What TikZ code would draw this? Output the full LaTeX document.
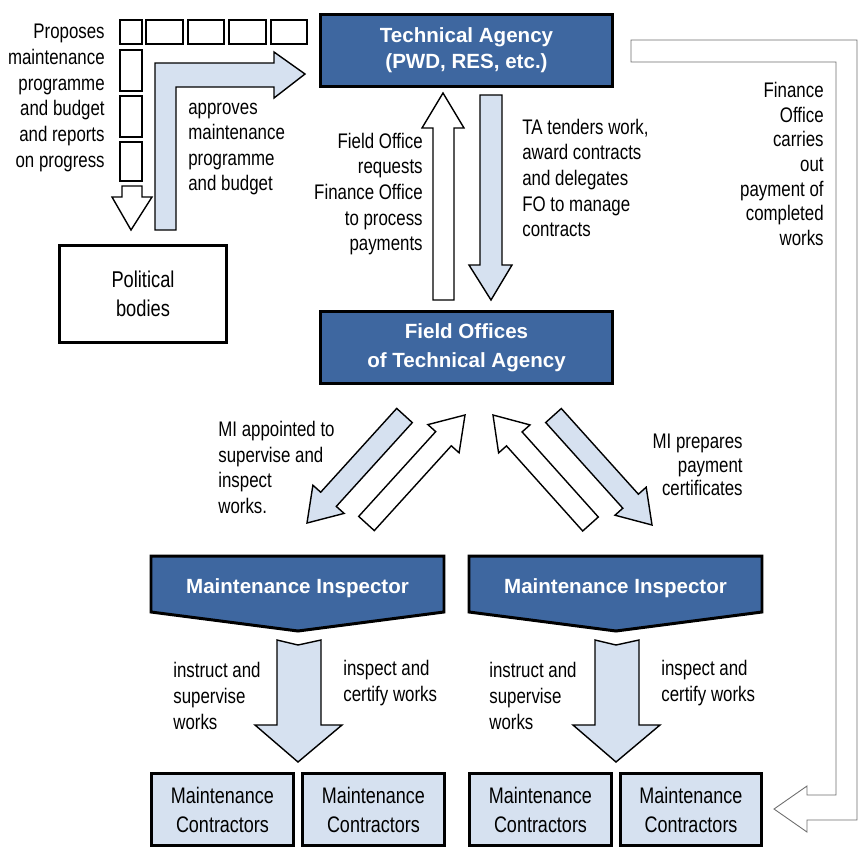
\documentclass[tikz,border=0pt]{standalone}
\usepackage{fontspec}
\setmainfont{Liberation Sans}
\newfontfamily\narrowsans{Liberation Sans}[FakeStretch=0.8]

\definecolor{agencyblue}{RGB}{62,103,160}
\definecolor{paleblue}{RGB}{214,225,240}
\definecolor{edgegray}{RGB}{110,110,110}

\tikzset{
  bluebox/.style={draw=black, line width=1.7pt, fill=agencyblue, text=white,
    font=\fontsize{11.7}{14.8}\selectfont\bfseries, align=center, inner sep=0pt},
  whitebox/.style={draw=black, line width=1.7pt, fill=white,
    font=\narrowsans\fontsize{13}{16.8}\selectfont, align=center, inner sep=0pt},
  contractor/.style={draw=black, line width=1.7pt, fill=paleblue,
    font=\narrowsans\fontsize{12.8}{16.5}\selectfont, align=center,
    minimum width=2.84cm, minimum height=1.44cm, inner sep=0pt},
  remark/.style={font=\narrowsans\fontsize{12}{14.6}\selectfont, inner sep=0pt},
  fatarrow/.style={draw=black, line width=0.8pt},
  tinybox/.style={draw=black, line width=0.9pt},
}

\begin{document}
\begin{tikzpicture}[x=0.02cm, y=-0.02cm]
\useasboundingbox (0,0) rectangle (863,850);

% main boxes
\node[bluebox, minimum width=5.86cm, minimum height=1.44cm] (agency) at (466.5,50.5) {Technical Agency\\(PWD, RES, etc.)};
\node[bluebox, minimum width=5.86cm, minimum height=1.44cm, font=\fontsize{11.7}{16.5}\selectfont\bfseries] (field) at (466.5,347.5) {Field Offices\\of Technical Agency};
\node[whitebox, minimum width=3.34cm, minimum height=1.94cm] (political) at (143,294) {Political\\bodies};

% inspectors
\draw[draw=black, line width=1.7pt, fill=agencyblue] (151,556) -- (444,556) -- (444,612) -- (298,631) -- (151,612) -- cycle;
\draw[draw=black, line width=1.7pt, fill=agencyblue] (469,556) -- (762,556) -- (762,612) -- (616,631) -- (469,612) -- cycle;
\node[text=white, font=\fontsize{11.7}{14}\selectfont\bfseries] (insp1) at (297.5,588) {Maintenance Inspector};
\node[text=white, font=\fontsize{11.7}{14}\selectfont\bfseries] (insp2) at (615.5,588) {Maintenance Inspector};

% contractors
\node[contractor] (mc1) at (222.5,809.5) {Maintenance\\Contractors};
\node[contractor] (mc2) at (373.5,809.5) {Maintenance\\Contractors};
\node[contractor] (mc3) at (540.5,809.5) {Maintenance\\Contractors};
\node[contractor] (mc4) at (691,809.5) {Maintenance\\Contractors};

% dotted-box path to political bodies
\draw[tinybox] (120,20) rectangle (142,44);
\draw[tinybox] (146,20) rectangle (183,44);
\draw[tinybox] (188,20) rectangle (224,44);
\draw[tinybox] (229,20) rectangle (266,44);
\draw[tinybox] (271,20) rectangle (307,44);
\draw[tinybox] (120,50) rectangle (142,91);
\draw[tinybox] (120,96) rectangle (142,137);
\draw[tinybox] (120,142) rectangle (142,181);
\draw[fatarrow, fill=white] (122,186) -- (142,186) -- (142,197) -- (152,197) -- (131,230) -- (112,197) -- (122,197) -- cycle;

% approval arrow to agency
\draw[fatarrow, fill=paleblue] (155,230) -- (155,63) -- (274,63) -- (274,52) -- (305,74) -- (274,98) -- (274,87) -- (176,87) -- (176,230) -- cycle;

% agency <-> field offices
\draw[fatarrow, fill=white] (433,300) -- (433,128) -- (422,128) -- (443,93) -- (464,128) -- (454,128) -- (454,300) -- cycle;
\draw[fatarrow, fill=paleblue] (480,95) -- (502,95) -- (502,265) -- (512,265) -- (491,300) -- (469,265) -- (480,265) -- cycle;

% field offices <-> inspectors
\draw[fatarrow, fill=paleblue] (412.3,422.6) -- (336.3,506.4) -- (344.1,513.4) -- (307,523) -- (312.9,485.2) -- (320.7,492.2) -- (396.7,408.4) -- cycle;
\draw[fatarrow, fill=white] (374.3,530.6) -- (451.3,445.8) -- (459.1,452.8) -- (465,415) -- (427.9,424.6) -- (435.7,431.6) -- (358.7,516.4) -- cycle;
\draw[fatarrow, fill=white] (598.3,517.0) -- (522.1,431.9) -- (530.0,424.9) -- (493,415) -- (498.6,452.9) -- (506.5,445.9) -- (582.7,531.0) -- cycle;
\draw[fatarrow, fill=paleblue] (561.3,408.5) -- (638.4,494.2) -- (646.2,487.2) -- (652,525) -- (615.0,515.2) -- (622.8,508.2) -- (545.7,422.5) -- cycle;

% inspectors to contractors
\draw[fatarrow, fill=paleblue] (277,640) -- (298,645) -- (321,640) -- (321,725) -- (342,725) -- (298,762) -- (255,725) -- (277,725) -- cycle;
\draw[fatarrow, fill=paleblue] (595,640) -- (616,645) -- (639,640) -- (639,725) -- (660,725) -- (616,762) -- (573,725) -- (595,725) -- cycle;

% payment route
\draw[edgegray, line width=0.5pt, fill=white] (631,40) -- (857,40) -- (857,820) -- (807,820) -- (807,832) -- (774,809) -- (807,786) -- (807,795) -- (836,795) -- (836,62) -- (631,62) -- cycle;

% remarks
\node[remark, anchor=east, align=right] (proposes) at (105,98) {Proposes\\maintenance\\programme\\and budget\\and reports\\on progress};
\node[remark, anchor=west, align=left] (approves) at (188,149) {approves\\maintenance\\programme\\and budget};
\node[remark, anchor=east, align=right] (requests) at (423,194) {Field Office\\requests\\Finance Office\\to process\\payments};
\node[remark, anchor=west, align=left] (tenders) at (522,178) {TA tenders work,\\award contracts\\and delegates\\FO to manage\\contracts};
\node[remark, anchor=east, align=right, font=\narrowsans\fontsize{12}{14}\selectfont] (finance) at (824,164) {Finance\\Office\\carries\\out\\payment of\\completed\\works};
\node[remark, anchor=west, align=left] (appointed) at (218,467.5) {MI appointed to\\supervise and\\inspect\\works.};
\node[remark, anchor=east, align=right, font=\narrowsans\fontsize{12}{13.5}\selectfont] (prepares) at (743,465) {MI prepares\\payment\\certificates};
\node[remark, anchor=west, align=left] (instruct1) at (173,696) {instruct and\\supervise\\works};
\node[remark, anchor=west, align=left] (inspect1) at (343,683) {inspect and\\certify works};
\node[remark, anchor=west, align=left] (instruct2) at (489,696) {instruct and\\supervise\\works};
\node[remark, anchor=west, align=left] (inspect2) at (661,683) {inspect and\\certify works};
\end{tikzpicture}
\end{document}
